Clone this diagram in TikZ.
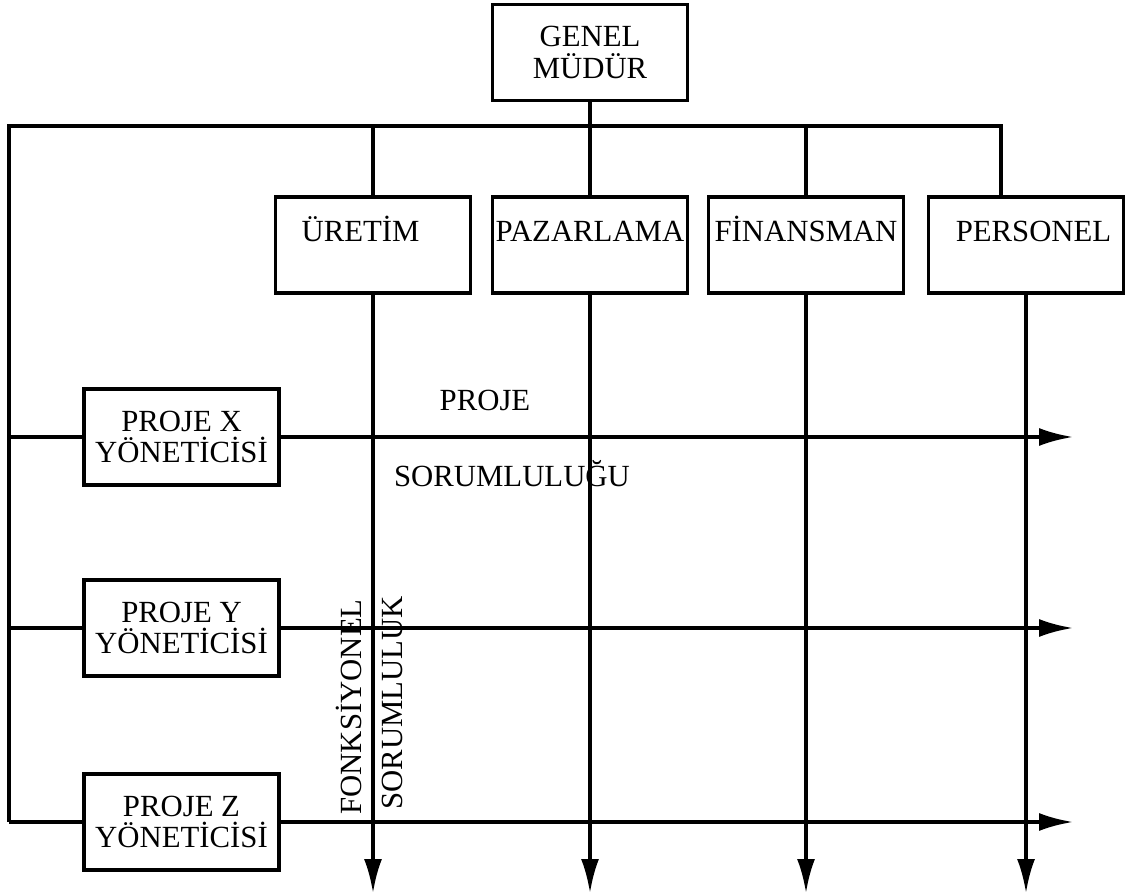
\documentclass[tikz,border=0pt]{standalone}
\usepackage{fontspec}
\setmainfont{Liberation Serif}
\usetikzlibrary{positioning}
\usetikzlibrary{arrows.meta}

\begin{document}
\begin{tikzpicture}[
    >={Latex[length=0.68cm,width=0.36cm]},
    every node/.style={font=\fontsize{17.5}{18}\selectfont},
    unit/.style={draw, line width=2pt, minimum width=3.9cm, minimum height=1.92cm, inner sep=1pt, align=center},
    dept/.style={unit, text height=0.45cm, text depth=0.6cm},
    link/.style={line width=2pt},
    flow/.style={->, line width=2pt},
    label/.style={inner sep=0pt}
]
\useasboundingbox (0,0) rectangle (22.84,17.9);

\node[unit] (gm) at (11.8,16.85) {GENEL\\MÜDÜR};

\node[dept] (uretim) at (7.46,13.0) {ÜRETİM\hspace{0.5cm}};
\node[dept] (pazarlama) at (11.8,13.0) {PAZARLAMA};
\node[dept] (finansman) at (16.12,13.0) {FİNANSMAN};
\node[dept] (personel) at (20.52,13.0) {\hspace{0.3cm}PERSONEL};

\node[unit] (px) at (3.63,9.16) {PROJE X\\YÖNETİCİSİ};
\node[unit] (py) at (3.63,5.34) {PROJE Y\\YÖNETİCİSİ};
\node[unit] (pz) at (3.63,1.46) {PROJE Z\\YÖNETİCİSİ};

\node[label] (projeTxt) at (9.7,9.9) {PROJE};
\node[label] (sorTxt) at (10.24,8.42) {SORUMLULUĞU};
\node[label, rotate=90] (fonkTxt) at (6.98,3.76) {FONKSİYONEL};
\node[label, rotate=90] (sorlukTxt) at (7.84,3.84) {SORUMLULUK};

\coordinate (topL) at (0.18,15.38);
\coordinate (topR) at (20.02,15.38);
\coordinate (bot) at (0,0.04);
\coordinate (rightEnd) at (21.46,0);

% yatay hat ve dikey bağlantılar
\draw[link] (topL |- pz.west) -- (topL) -- (topR) -- (topR |- personel.north);
\draw[link] (gm.south) -- (pazarlama.north);
\draw[link] (uretim.north) -- (uretim.north |- topL);
\draw[link] (finansman.north) -- (finansman.north |- topL);

% fonksiyonel sorumluluk
\foreach \d in {uretim,pazarlama,finansman,personel}
    \draw[flow] (\d.south) -- (\d.south |- bot);

% proje sorumluluğu
\foreach \p in {px,py,pz} {
    \draw[link] (\p.west -| topL) -- (\p.west);
    \draw[flow] (\p.east) -- (\p.east -| rightEnd);
}
\end{tikzpicture}
\end{document}
